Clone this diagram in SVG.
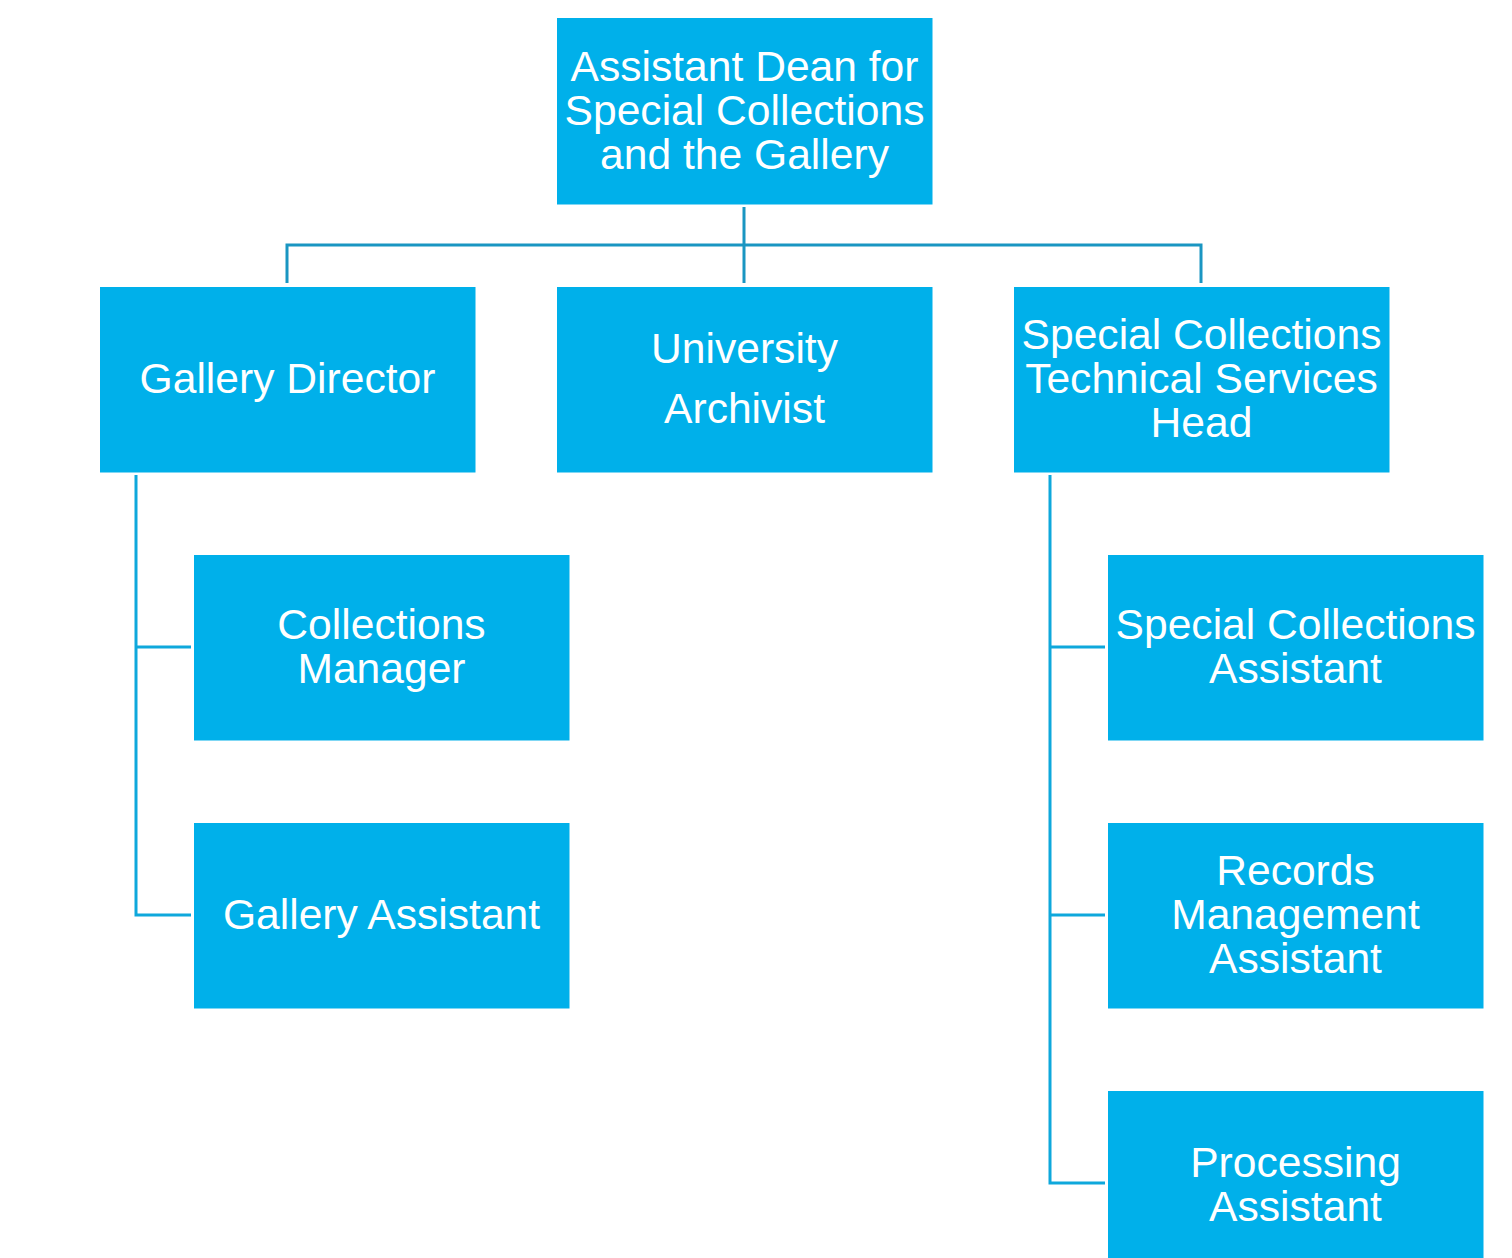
<svg xmlns="http://www.w3.org/2000/svg" width="1512" height="1258" viewBox="0 0 1512 1258">
<style>
.box{fill:#00b0ea}
.t{font-family:"Liberation Sans",Arial,sans-serif;font-size:42.6px;fill:#ffffff;text-anchor:middle}
.c1{stroke:#1a96c2;stroke-width:3;fill:none}
.c2{stroke:#0ea8dc;stroke-width:3;fill:none}
</style>
<rect width="1512" height="1258" fill="#ffffff"/>
<g id="connectors">
<path class="c1" d="M744,207V283M287,283V245H1201V283"/>
<path class="c2" d="M136,475V915H191M136,647H191"/>
<path class="c2" d="M1050,475V1183H1105M1050,647H1105M1050,915H1105"/>
</g>
<g id="dean"><rect class="box" x="557" y="18" width="375.5" height="186.5"/>
<text class="t" x="744.5" y="81">Assistant Dean for</text><text class="t" x="744.5" y="125">Special Collections</text><text class="t" x="744.5" y="169">and the Gallery</text></g>
<g id="gallery-director"><rect class="box" x="100" y="287" width="375.5" height="185.5"/>
<text class="t" x="287.5" y="393">Gallery Director</text></g>
<g id="university-archivist"><rect class="box" x="557" y="287" width="375.5" height="185.5"/>
<text class="t" x="744.5" y="363">University</text><text class="t" x="744.5" y="423">Archivist</text></g>
<g id="tech-services-head"><rect class="box" x="1014" y="287" width="375.5" height="185.5"/>
<text class="t" x="1201.5" y="349">Special Collections</text><text class="t" x="1201.5" y="393">Technical Services</text><text class="t" x="1201.5" y="437">Head</text></g>
<g id="collections-manager"><rect class="box" x="194" y="555" width="375.5" height="185.5"/>
<text class="t" x="381.5" y="639">Collections</text><text class="t" x="381.5" y="683">Manager</text></g>
<g id="gallery-assistant"><rect class="box" x="194" y="823" width="375.5" height="185.5"/>
<text class="t" x="381.5" y="929">Gallery Assistant</text></g>
<g id="sc-assistant"><rect class="box" x="1108" y="555" width="375.5" height="185.5"/>
<text class="t" x="1295.5" y="639">Special Collections</text><text class="t" x="1295.5" y="683">Assistant</text></g>
<g id="records-assistant"><rect class="box" x="1108" y="823" width="375.5" height="185.5"/>
<text class="t" x="1295.5" y="885">Records</text><text class="t" x="1295.5" y="929">Management</text><text class="t" x="1295.5" y="973">Assistant</text></g>
<g id="processing-assistant"><rect class="box" x="1108" y="1091" width="375.5" height="185"/>
<text class="t" x="1295.5" y="1177">Processing</text><text class="t" x="1295.5" y="1221">Assistant</text></g>
</svg>
